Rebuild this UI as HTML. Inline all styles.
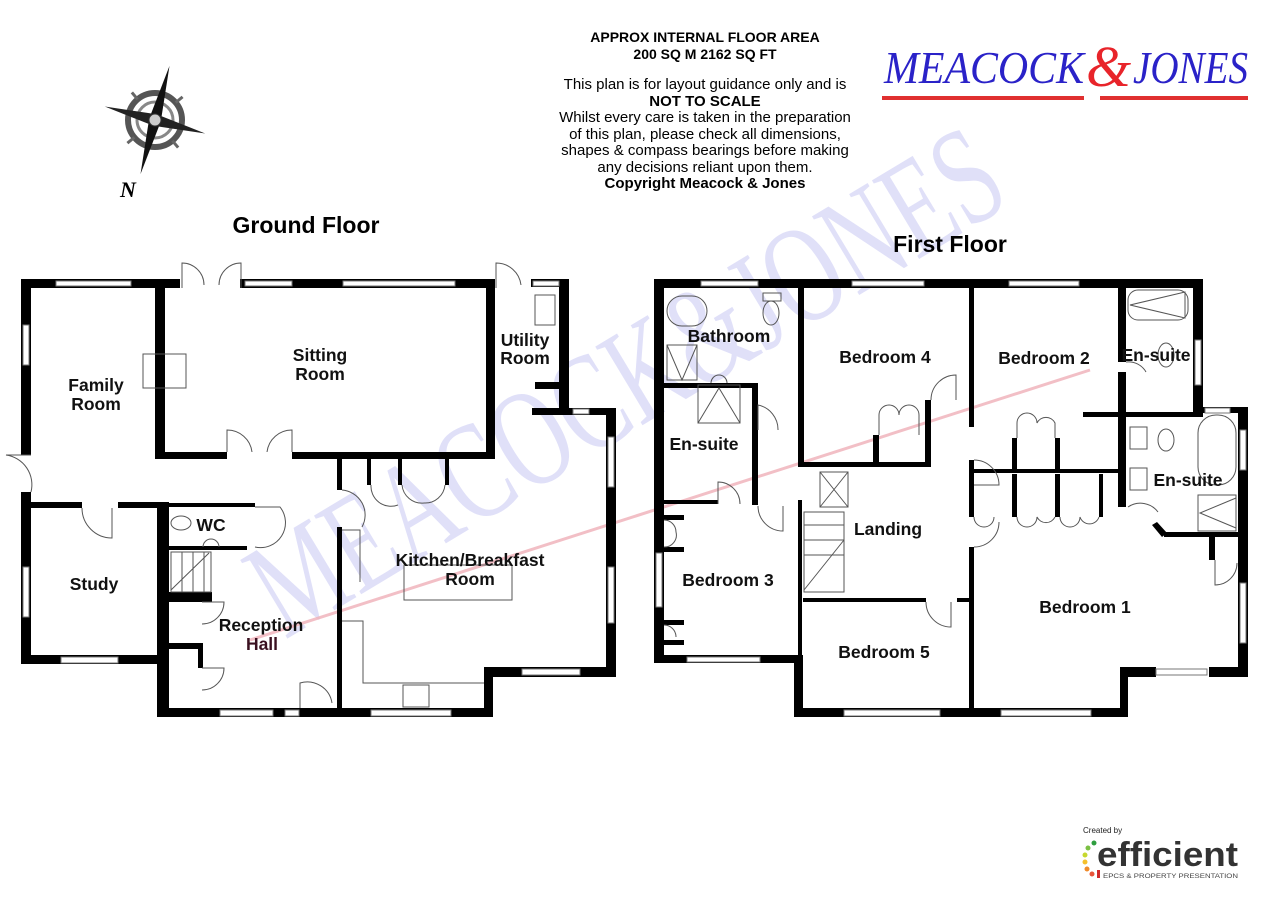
<!DOCTYPE html>
<html><head><meta charset="utf-8"><style>
html,body{margin:0;padding:0;background:#fff;}
body{width:1280px;height:905px;overflow:hidden;position:relative;font-family:"Liberation Sans",Arial,sans-serif;}
.hd{position:absolute;left:505px;width:400px;text-align:center;font-size:15px;line-height:16.5px;color:#000;}
</style></head><body>
<div class="hd" style="top:29px;font-weight:bold;font-size:14px;">APPROX INTERNAL FLOOR AREA<br>200 SQ M 2162 SQ FT</div>
<div class="hd" style="top:77px;">This plan is for layout guidance only and is<br><b>NOT TO SCALE</b><br>Whilst every care is taken in the preparation<br>of this plan, please check all dimensions,<br>shapes &amp; compass bearings before making<br>any decisions reliant upon them.<br><b>Copyright Meacock &amp; Jones</b></div>

<svg width="1280" height="905" style="position:absolute;left:0;top:0" xmlns="http://www.w3.org/2000/svg">
<text x="884" y="83" font-family="Liberation Serif,serif" font-style="italic" font-size="46" fill="#2a22c8" textLength="200" lengthAdjust="spacingAndGlyphs">MEACOCK</text>
<text x="1086" y="86" font-family="Liberation Serif,serif" font-style="italic" font-size="58" fill="#e8242a">&amp;</text>
<text x="1133" y="83" font-family="Liberation Serif,serif" font-style="italic" font-size="46" fill="#2a22c8" textLength="115" lengthAdjust="spacingAndGlyphs">JONES</text>
<rect x="882" y="96" width="366" height="4" fill="#e03030"/>
<rect x="1084" y="93" width="16" height="8" fill="#fff"/>

<g transform="translate(155,120)">
<circle r="27" fill="none" stroke="#555" stroke-width="6"/>
<circle r="18" fill="none" stroke="#888" stroke-width="3"/>
<g stroke="#666" stroke-width="3"><line x1="0" y1="-36" x2="0" y2="-27" transform="rotate(-40)"/><line x1="0" y1="-36" x2="0" y2="-27" transform="rotate(50)"/><line x1="0" y1="-36" x2="0" y2="-27" transform="rotate(140)"/><line x1="0" y1="-36" x2="0" y2="-27" transform="rotate(230)"/></g>
<g transform="rotate(15)">
<polygon points="0,-56 6,0 0,56 -6,0" fill="#111"/>
<polygon points="-52,0 0,-6 52,0 0,6" fill="#222"/>
</g>
<circle r="6" fill="#ccc" stroke="#333"/>
</g>
<text x="120" y="197" font-family="Liberation Serif,serif" font-weight="bold" font-style="italic" font-size="22">N</text>

<text x="0" y="0" transform="translate(285,640) rotate(-31)" font-family="Liberation Serif,serif" font-size="140" fill="#c8c8f4" opacity="0.55" textLength="850" lengthAdjust="spacingAndGlyphs">MEACOCK&amp;JONES</text>
<line x1="250" y1="640" x2="1090" y2="370" stroke="#f0b0b8" stroke-width="3" opacity="0.8"/>

<text x="306" y="233" text-anchor="middle" font-size="23" font-weight="bold">Ground Floor</text>
<text x="950" y="252" text-anchor="middle" font-size="23" font-weight="bold">First Floor</text>

<g fill="#000">
<rect x="21" y="279" width="159" height="9"/>
<rect x="155" y="279" width="10" height="180"/>
<rect x="240" y="279" width="255" height="9"/>
<rect x="486" y="279" width="9" height="180"/>
<rect x="155" y="452" width="72" height="7"/>
<rect x="292" y="452" width="203" height="7"/>
<rect x="531" y="279" width="38" height="8"/>
<rect x="559" y="279" width="10" height="136"/>
<rect x="532" y="408" width="84" height="7"/>
<rect x="606" y="408" width="10" height="269"/>
<rect x="484" y="667" width="132" height="10"/>
<rect x="484" y="667" width="9" height="50"/>
<rect x="161" y="708" width="332" height="9"/>
<rect x="21" y="279" width="10" height="176"/>
<rect x="21" y="492" width="10" height="172"/>
<rect x="21" y="655" width="148" height="9"/>
<rect x="31" y="502" width="51" height="6"/>
<rect x="118" y="502" width="51" height="6"/>
<rect x="157" y="502" width="12" height="215"/>
<rect x="169" y="503" width="86" height="4"/>
<rect x="169" y="546" width="78" height="4"/>
<rect x="169" y="592" width="43" height="10"/>
<rect x="169" y="643" width="33" height="6"/>
<rect x="198" y="643" width="5" height="25"/>
<rect x="337" y="459" width="5" height="31"/>
<rect x="337" y="527" width="5" height="190"/>
<rect x="367" y="459" width="4" height="26"/>
<rect x="398" y="459" width="4" height="26"/>
<rect x="445" y="459" width="4" height="26"/>
<rect x="535" y="382" width="24" height="7"/>

<rect x="654" y="279" width="549" height="9"/>
<rect x="1193" y="279" width="10" height="134"/>
<rect x="654" y="279" width="10" height="384"/>
<rect x="798" y="279" width="6" height="188"/>
<rect x="798" y="462" width="133" height="5"/>
<rect x="873" y="435" width="6" height="32"/>
<rect x="925" y="400" width="6" height="67"/>
<rect x="969" y="279" width="5" height="148"/>
<rect x="969" y="460" width="5" height="57"/>
<rect x="969" y="547" width="5" height="170"/>
<rect x="974" y="469" width="144" height="4"/>
<rect x="1012" y="474" width="5" height="43"/>
<rect x="1055" y="474" width="5" height="43"/>
<rect x="1099" y="474" width="4" height="43"/>
<rect x="1012" y="438" width="5" height="31"/>
<rect x="1055" y="438" width="5" height="31"/>
<rect x="1118" y="279" width="8" height="83"/>
<rect x="1118" y="372" width="8" height="135"/>
<rect x="1083" y="412" width="120" height="5"/>
<rect x="1203" y="407" width="45" height="6"/>
<rect x="1238" y="407" width="10" height="270"/>
<rect x="1209" y="667" width="39" height="10"/>
<rect x="1120" y="667" width="36" height="10"/>
<rect x="1120" y="667" width="8" height="50"/>
<rect x="794" y="708" width="334" height="9"/>
<rect x="654" y="655" width="145" height="8"/>
<rect x="794" y="655" width="9" height="62"/>
<rect x="798" y="500" width="4" height="160"/>
<rect x="803" y="598" width="123" height="4"/>
<rect x="957" y="598" width="13" height="4"/>
<rect x="664" y="383" width="94" height="5"/>
<rect x="752" y="383" width="6" height="122"/>
<rect x="664" y="500" width="54" height="4"/>
<rect x="664" y="515" width="20" height="5"/>
<rect x="664" y="547" width="20" height="5"/>
<rect x="664" y="620" width="20" height="5"/>
<rect x="664" y="640" width="20" height="5"/>
<rect x="1164" y="532" width="76" height="5"/>
<rect x="1209" y="535" width="6" height="25"/>
<polygon points="1152,525 1157,522 1167,533 1162,537"/>
</g>

<g fill="#fff" stroke="#777" stroke-width="1">
<rect x="56" y="281" width="75" height="5"/><rect x="245" y="281" width="47" height="5"/><rect x="343" y="281" width="112" height="5"/>
<rect x="533" y="281" width="26" height="5"/><rect x="573" y="409" width="16" height="5"/>
<rect x="608" y="437" width="6" height="50"/><rect x="608" y="567" width="6" height="56"/>
<rect x="522" y="669" width="58" height="6"/>
<rect x="220" y="710" width="53" height="6"/><rect x="285" y="710" width="14" height="6"/><rect x="371" y="710" width="80" height="6"/>
<rect x="23" y="325" width="6" height="40"/><rect x="23" y="567" width="6" height="50"/>
<rect x="61" y="657" width="57" height="6"/>
<rect x="701" y="281" width="57" height="5"/><rect x="852" y="281" width="72" height="5"/><rect x="1009" y="281" width="70" height="5"/>
<rect x="1195" y="340" width="6" height="45"/><rect x="1205" y="408" width="25" height="5"/>
<rect x="1240" y="430" width="6" height="40"/><rect x="1240" y="583" width="6" height="60"/>
<rect x="1156" y="669" width="51" height="6"/>
<rect x="844" y="710" width="96" height="6"/><rect x="1001" y="710" width="90" height="6"/>
<rect x="687" y="657" width="73" height="5"/>
<rect x="656" y="553" width="6" height="54"/>
</g>

<g fill="none" stroke="#555" stroke-width="1">
<rect x="143" y="354" width="43" height="34"/>
<rect x="404" y="565" width="108" height="35"/>
<polyline points="342,530 360,530 360,582"/>
<polyline points="342,621 363,621 363,683 484,683"/>
<rect x="403" y="685" width="26" height="22"/>
<rect x="535" y="295" width="20" height="30"/>
<path d="M182,288 v-25 a22,22 0 0 1 22,22 M241,288 v-25 a22,22 0 0 0 -22,22"/>
<path d="M227,452 v-22 a25,25 0 0 1 25,22 M292,452 v-22 a25,25 0 0 0 -25,22"/>
<path d="M496,288 v-25 a25,25 0 0 1 25,22"/>
<path d="M31,455 h-25 a30,30 0 0 1 25,37"/>
<path d="M82,508 v0 h0 a30,30 0 0 0 30,30 v-30"/>
<path d="M255,507 h25 a25,25 0 0 1 -25,40"/>
<path d="M202,668 h22 a22,22 0 0 1 -22,22"/>
<path d="M202,602 h22 a22,22 0 0 1 -22,22"/>
<path d="M300,708 v-25 a25,25 0 0 1 32,20"/>
<path d="M342,490 a25,25 0 0 1 20,37"/>
<path d="M371,485 a20,20 0 0 0 27,20 M402,485 a20,20 0 0 0 22,18 M445,485 a20,20 0 0 1 -21,18"/>
<rect x="171" y="552" width="40" height="40"/><line x1="182" y1="552" x2="182" y2="592"/><line x1="193" y1="552" x2="193" y2="592"/><line x1="204" y1="552" x2="204" y2="592"/>
<line x1="171" y1="590" x2="209" y2="553"/>
<ellipse cx="181" cy="523" rx="10" ry="7"/>
<path d="M203,547 a8,8 0 0 1 16,0"/>
<rect x="667" y="296" width="40" height="30" rx="15"/>
<ellipse cx="771" cy="313" rx="8" ry="12"/><rect x="763" y="293" width="18" height="8"/>
<rect x="667" y="345" width="30" height="35"/><path d="M667,345 L682,380 L697,345"/>
<rect x="698" y="385" width="42" height="38"/><path d="M698,423 L719,388 L740,423"/>
<path d="M727,383 a8,8 0 0 0 -16,0"/>
<rect x="820" y="472" width="28" height="35"/><line x1="820" y1="472" x2="848" y2="507"/><line x1="848" y1="472" x2="820" y2="507"/>
<rect x="804" y="512" width="40" height="80"/><line x1="804" y1="525" x2="844" y2="525"/><line x1="804" y1="540" x2="844" y2="540"/><line x1="804" y1="555" x2="844" y2="555"/><line x1="804" y1="590" x2="844" y2="540"/>
<path d="M758,430 v-25 a25,25 0 0 1 20,25"/>
<path d="M718,504 v-22 a22,22 0 0 1 22,22"/>
<path d="M758,506 a25,25 0 0 0 25,25 v-25"/>
<path d="M931,400 a25,25 0 0 1 25,-25 v25"/>
<path d="M974,460 h0 a25,25 0 0 1 25,25 h-25"/>
<path d="M974,547 h0 a25,25 0 0 0 25,-25"/>
<path d="M926,602 a25,25 0 0 0 25,25 v-25"/>
<path d="M879,435 v-20 a10,10 0 0 1 20,0 a10,10 0 0 1 20,0 v20"/>
<path d="M974,517 a10,10 0 0 0 20,0 M1017,517 a10,10 0 0 0 20,0 a10,10 0 0 0 18,0 M1060,517 a10,10 0 0 0 20,0 a10,10 0 0 0 19,0"/>
<path d="M1017,438 v-15 a10,10 0 0 1 20,0 a10,10 0 0 1 18,0 v15"/>
<path d="M664,520 a12,12 0 0 1 12,12 a12,12 0 0 1 -12,15 M664,625 a12,12 0 0 1 12,12"/>
<rect x="1128" y="290" width="60" height="30" rx="10"/><path d="M1130,305 L1185,292 L1185,318 Z"/>
<ellipse cx="1166" cy="355" rx="8" ry="12"/>
<path d="M1126,362 a20,20 0 0 1 20,10"/>
<rect x="1198" y="415" width="38" height="70" rx="18"/>
<rect x="1198" y="495" width="38" height="36"/><path d="M1236,498 L1200,513 L1236,528"/>
<ellipse cx="1166" cy="440" rx="8" ry="11"/>
<rect x="1130" y="427" width="17" height="22"/><rect x="1130" y="468" width="17" height="22"/>
<path d="M1128,507 a22,22 0 0 1 30,5"/>
<path d="M1215,560 v25 a22,22 0 0 0 22,-22"/>
</g>

<g font-size="17.5" font-weight="bold" text-anchor="middle" fill="#111">
<text x="96" y="391">Family</text><text x="96" y="410">Room</text>
<text x="320" y="361">Sitting</text><text x="320" y="380">Room</text>
<text x="525" y="346">Utility</text><text x="525" y="364">Room</text>
<text x="94" y="590">Study</text>
<text x="211" y="531">WC</text>
<text x="470" y="566">Kitchen/Breakfast</text><text x="470" y="585">Room</text>
<text x="261" y="631">Reception</text><text x="262" y="650" fill="#3a1020">Hall</text>
<text x="729" y="342">Bathroom</text>
<text x="704" y="450">En-suite</text>
<text x="885" y="363">Bedroom 4</text>
<text x="1044" y="364">Bedroom 2</text>
<text x="1156" y="361">En-suite</text>
<text x="1188" y="486">En-suite</text>
<text x="888" y="535">Landing</text>
<text x="728" y="586">Bedroom 3</text>
<text x="1085" y="613">Bedroom 1</text>
<text x="884" y="658">Bedroom 5</text>
</g>

<text x="1083" y="833" font-size="8" fill="#222">Created by</text>
<text x="1097" y="866" font-size="34" font-weight="bold" fill="#333" textLength="141" lengthAdjust="spacingAndGlyphs">efficient</text>
<text x="1103" y="878" font-size="6" fill="#444" textLength="135" lengthAdjust="spacingAndGlyphs">EPCS &amp; PROPERTY PRESENTATION</text>
<g><circle cx="1088" cy="848" r="2.5" fill="#7bc043"/><circle cx="1094" cy="843" r="2.5" fill="#2e9e3e"/><circle cx="1085" cy="855" r="2.5" fill="#c6d82e"/><circle cx="1085" cy="862" r="2.5" fill="#f5c02c"/><circle cx="1087" cy="869" r="2.5" fill="#f08a2a"/><circle cx="1092" cy="874" r="2.5" fill="#e8553a"/><rect x="1097" y="870" width="3" height="8" fill="#d02a2a"/></g>
</svg>
</body></html>
